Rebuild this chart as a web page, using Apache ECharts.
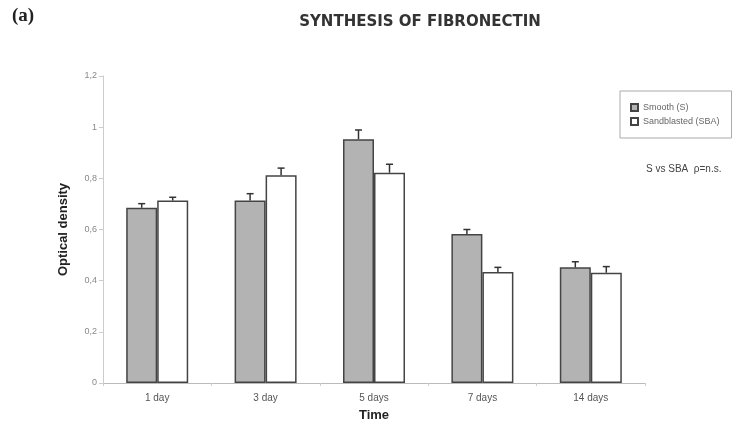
<!DOCTYPE html>
<html>
<head>
<meta charset="utf-8">
<script src="https://cdn.jsdelivr.net/npm/echarts@6/dist/echarts.min.js"></script>
<style>
  html, body { margin: 0; padding: 0; background: #fff; }
  #chart { width: 735px; height: 424px; }
</style>
</head>
<body>
<div id="chart"></div>
<script>
const categories = ['1 day', '3 day', '5 days', '7 days', '14 days'];
const smooth = [0.685, 0.713, 0.953, 0.582, 0.452];
const smoothErr = [0.016, 0.027, 0.036, 0.018, 0.022];
const sandblasted = [0.713, 0.812, 0.822, 0.434, 0.431];
const sandblastedErr = [0.013, 0.028, 0.033, 0.018, 0.024];
const yTicks = [0, 0.2, 0.4, 0.6, 0.8, 1, 1.2];

const BAR_W = 31;
const chart = echarts.init(document.getElementById('chart'));

// upper-only error bars, drawn at the centre of each bar
const errSeries = (vals, errs, side) => ({
    type: 'custom',
    silent: true,
    z: 5,
    data: vals.map((v, i) => [i, v, errs[i]]),
    renderItem: (params, api) => {
        const base = api.coord([api.value(0), api.value(1)]);
        const top = api.coord([api.value(0), api.value(1) + api.value(2)]);
        const x = base[0] + side * BAR_W / 2;
        const style = { stroke: '#333', lineWidth: 1.5 };
        return {
            type: 'group',
            children: [
                { type: 'line', shape: { x1: x, y1: base[1], x2: x, y2: top[1] }, style },
                { type: 'line', shape: { x1: x - 3.5, y1: top[1], x2: x + 3.5, y2: top[1] }, style }
            ]
        };
    }
});

const option = {
    animation: false,
    textStyle: { fontFamily: 'Liberation Sans' },
    title: {
        text: 'SYNTHESIS OF FIBRONECTIN',
        left: 415,
        top: 10,
        textAlign: 'center',
        textStyle: { fontFamily: 'DejaVu Sans', fontSize: 15, fontWeight: 'bold', color: '#333' }
    },
    graphic: [
        {
            type: 'text', left: 12, top: 7,
            style: { text: '(a)', font: 'bold 19px "Liberation Serif"', fill: '#222' }
        },
        {
            type: 'text', left: 646, top: 164,
            style: { text: 'S vs SBA  \u03c1=n.s.', font: '10px "Liberation Sans"', fill: '#444' }
        }
    ],
    legend: {
        orient: 'vertical',
        left: 620,
        top: 91,
        width: 115,
        padding: [12, 12, 12, 10],
        itemGap: 5,
        itemWidth: 7,
        itemHeight: 7,
        borderColor: '#aaa',
        borderWidth: 1,
        icon: 'rect',
        textStyle: { fontSize: 9, color: '#666' },
        data: ['Smooth (S)', 'Sandblasted (SBA)']
    },
    grid: { left: 103, right: 90, top: 76, bottom: 41, outerBoundsMode: 'none' },
    xAxis: {
        type: 'category',
        data: categories,
        name: 'Time',
        nameLocation: 'middle',
        nameGap: 26,
        nameMoveOverlap: false,
        nameTextStyle: { fontSize: 13, fontWeight: 'bold', color: '#222' },
        axisLine: { lineStyle: { color: '#bbb' } },
        axisTick: { show: true, length: 3, lineStyle: { color: '#ccc' } },
        axisLabel: { fontSize: 10, color: '#555', margin: 10 }
    },
    yAxis: {
        type: 'value',
        min: 0,
        max: 1.2,
        interval: 0.2,
        name: 'Optical density',
        nameLocation: 'middle',
        nameGap: 33,
        nameMoveOverlap: false,
        nameTextStyle: { fontSize: 13, fontWeight: 'bold', color: '#222' },
        axisLine: { show: true, lineStyle: { color: '#ccc' } },
        axisTick: { show: true, length: 4, lineStyle: { color: '#ccc' } },
        splitLine: { show: false },
        axisLabel: {
            fontSize: 9,
            color: '#888',
            margin: 6,
            formatter: v => {
                const t = yTicks.find(k => Math.abs(k - v) < 1e-9);
                return String(t === undefined ? v : t).replace('.', ',');
            }
        }
    },
    series: [
        {
            name: 'Smooth (S)',
            type: 'bar',
            barWidth: BAR_W,
            barGap: '0%',
            data: smooth,
            itemStyle: { color: '#b3b3b3', borderColor: '#444', borderWidth: 1.5 }
        },
        {
            name: 'Sandblasted (SBA)',
            type: 'bar',
            barWidth: BAR_W,
            barGap: '0%',
            data: sandblasted,
            itemStyle: { color: '#ffffff', borderColor: '#444', borderWidth: 1.5 }
        },
        errSeries(smooth, smoothErr, -1),
        errSeries(sandblasted, sandblastedErr, 1)
    ]
};

chart.setOption(option);
</script>
</body>
</html>
